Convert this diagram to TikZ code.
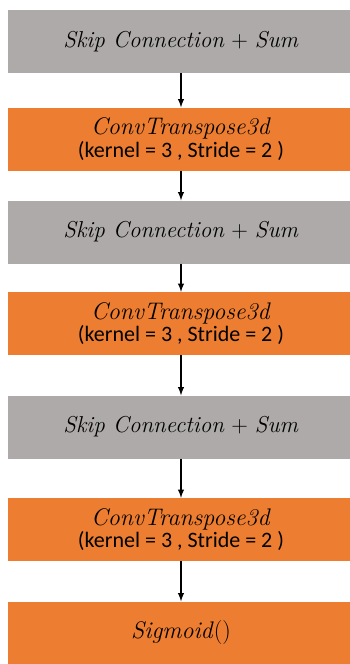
\documentclass[tikz,border=0pt]{standalone}
\usepackage{fontspec}
\setsansfont{Carlito}
\usetikzlibrary{arrows}
\definecolor{boxgray}{HTML}{AEAAAA}
\definecolor{boxorange}{HTML}{ED7D31}
\tikzset{
  >=latex,
  {base box/.style} ={rectangle, inner sep=0, minimum width=346pt,
                      minimum height=63pt, align=center, text=black},
  {skip box/.style} ={base box, fill=boxgray},
  {conv box/.style} ={base box, fill=boxorange},
  {flow/.style} ={draw, line width=1.8pt, ->},
}
\newcommand{\skiptext}{\fontsize{23}{28}\selectfont
  \textit{Skip Connection} + \textit{Sum}}
\newcommand{\convtext}{\fontsize{24}{26}\selectfont \textit{ConvTranspose3d}\\[1pt]
  \sffamily\fontsize{22}{27}\selectfont (kernel = 3 , Stride = 2 )}

\begin{document}
\begin{tikzpicture}
\useasboundingbox (0,0) rectangle (349pt,-664pt);
\node[skip box] (s1) at (181pt,-41.5pt) {\skiptext};
\node[conv box] (c1) at (181pt,-139pt) {\convtext};
\node[skip box] (s2) at (181pt,-232pt) {\skiptext};
\node[conv box] (c2) at (181pt,-323.5pt) {\convtext};
\node[skip box] (s3) at (181pt,-427pt) {\skiptext};
\node[conv box] (c3) at (181pt,-529.5pt) {\convtext};
\node[conv box] (sg) at (181pt,-633pt) {\fontsize{24}{28}\selectfont \textit{Sigmoid}()};
\path[flow] (s1) edge (c1)
        (c1) edge (s2)
        (s2) edge (c2)
        (c2) edge (s3)
        (s3) edge (c3)
        (c3) edge (sg);
\end{tikzpicture}
\end{document}
